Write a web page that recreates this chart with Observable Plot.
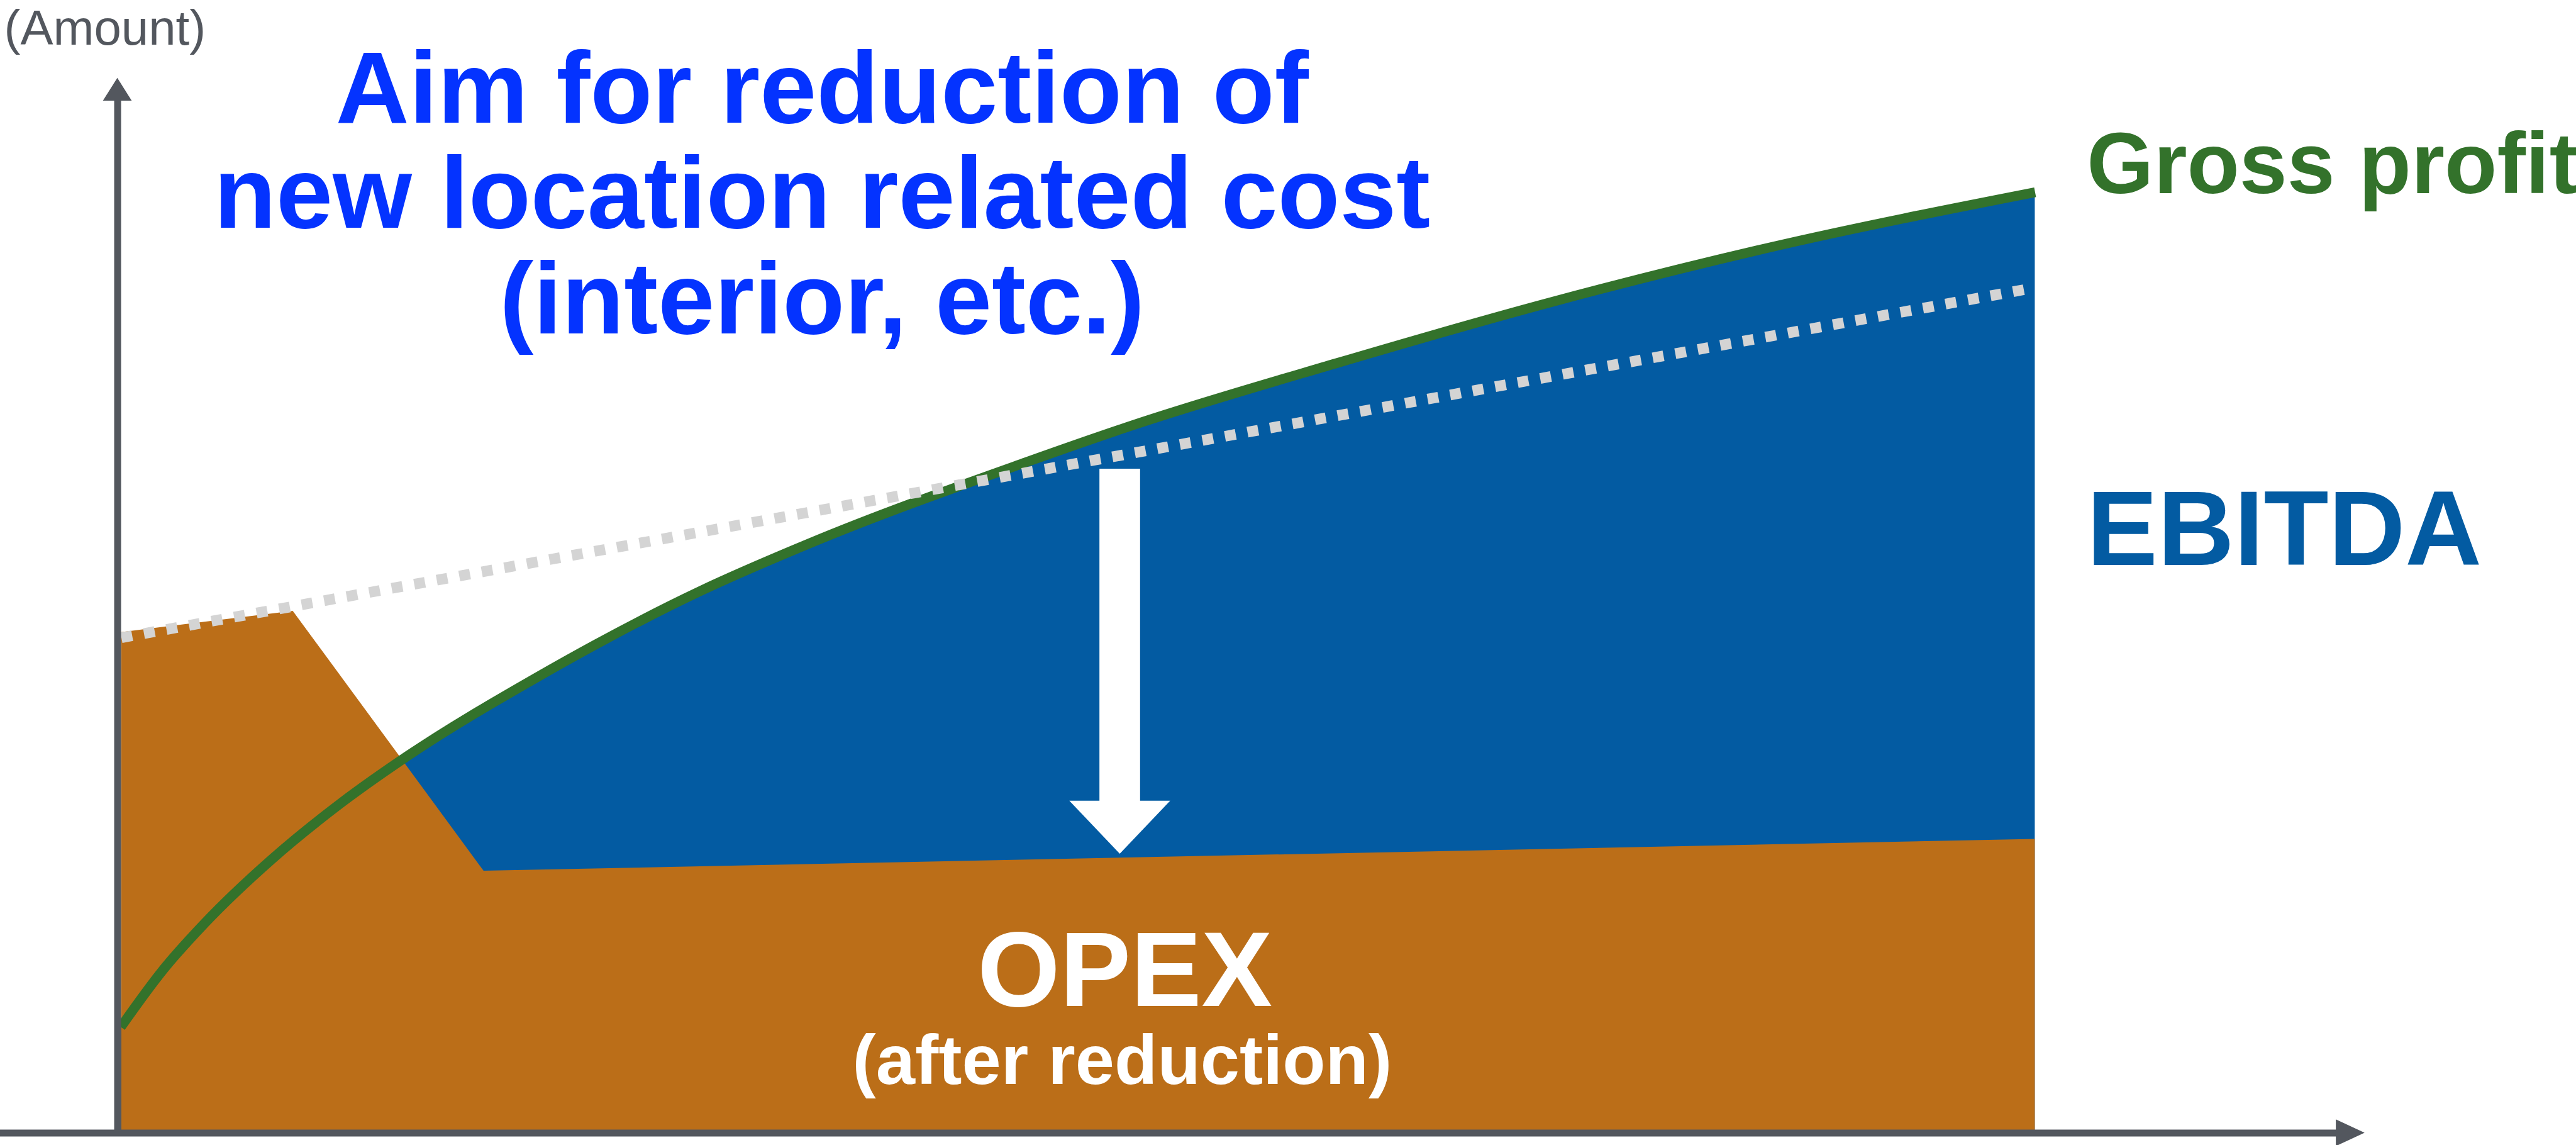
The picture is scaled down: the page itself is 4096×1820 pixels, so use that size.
<!DOCTYPE html>
<html>
<head>
<meta charset="utf-8">
<script src="https://cdn.jsdelivr.net/npm/d3@7"></script>
<script src="https://cdn.jsdelivr.net/npm/@observablehq/plot@0.6"></script>
<style>
  html, body { margin: 0; padding: 0; background: #ffffff; overflow: hidden; }
  #chart svg { display: block; }
</style>
</head>
<body>
<div id="chart"></div>
<script>
// ---- Data (x: time, 0..100 ; y: amount, 0..100) ----
// Gross profit curve
const grossX = [0.17, 2.39, 4.53, 8.06, 11.62, 15.16, 21.69, 30.37, 36.04, 47.39, 53.09, 63.52, 74.86, 86.21, 100];
const grossY = [10.0, 15.43, 19.76, 25.84, 31.07, 35.6, 42.78, 51.08, 55.56, 63.25, 66.82, 72.55, 78.38, 83.51, 88.69];
// OPEX (after reduction), top edge
const opexX = [0.2, 9.15, 19.1, 100];
const opexY = [47.2, 49.2, 24.7, 27.7];
// OPEX before reduction (dotted)
const priorX = [0.2, 57.8, 100];
const priorY = [46.7, 65.7, 79.7];
// Reduction arrow
const arrowX = [52.28];
const arrowFrom = [62.6];
const arrowBase = [31.3];
const arrowTo = [26.3];
const arrowShaftHalf = 1.06;
const arrowHeadHalf = 2.63;
// Axes
const axisYTop = 97.3, axisYTip = 99.45, axisYHeadHalf = 0.75;
const axisXStart = -6.2, axisXEnd = 115.7, axisXTip = 117.2, axisXHeadHalf = 1.26;
// Texts
const titleText = "Aim for reduction of\nnew location related cost\n(interior, etc.)";
const titlePos = {x: 36.74, y: 75.41};
const axisLabel = "(Amount)";
const axisLabelPos = {x: -5.92, y: 102.6};
const seriesLabels = ["Gross profit", "EBITDA", "OPEX", "(after reduction)"];
const labelX = [102.7, 102.7, 52.53, 52.39];
const labelY = [88.59, 53.54, 11.97, 4.63];

// ---- Tables built from the arrays ----
const gross = grossX.map((x, i) => ({x, y: grossY[i]}));
const opex = opexX.map((x, i) => ({x, y: opexY[i]}));
const prior = priorX.map((x, i) => ({x, y: priorY[i]}));
const shaft = arrowX.map((x, i) => ({x1: x - arrowShaftHalf, x2: x + arrowShaftHalf, y1: arrowBase[i] - 0.3, y2: arrowFrom[i]}));
const head = [
  {x: arrowX[0] - arrowHeadHalf, y1: arrowBase[0], y2: arrowBase[0]},
  {x: arrowX[0], y1: arrowBase[0], y2: arrowTo[0]},
  {x: arrowX[0] + arrowHeadHalf, y1: arrowBase[0], y2: arrowBase[0]}
];
const yHead = [
  {x: -axisYHeadHalf, y1: axisYTop, y2: axisYTop},
  {x: 0, y1: axisYTop, y2: axisYTip},
  {x: axisYHeadHalf, y1: axisYTop, y2: axisYTop}
];
const xHead = [
  {y: -axisXHeadHalf, x1: axisXEnd, x2: axisXEnd},
  {y: 0, x1: axisXEnd, x2: axisXTip},
  {y: axisXHeadHalf, x1: axisXEnd, x2: axisXEnd}
];
const labels = seriesLabels.map((t, i) => ({t, x: labelX[i], y: labelY[i]}));

// ---- Layout ----
const W = 4096, H = 1820;
const sx = W / 4831, sy = H / 2147;
const FONT = "'Liberation Sans', Arial, Helvetica, sans-serif";
const C = {
  orange: "#bb6e18", blue: "#035ba2", green: "#33722b",
  dotted: "#d4d4d4", axis: "#53575e", title: "#0433ff"
};

const chart = Plot.plot({
  width: W,
  height: H,
  margin: 0,
  style: {background: "#ffffff", fontFamily: FONT, overflow: "visible"},
  x: {domain: [0, 100], range: [220 * sx, 3816 * sx], axis: null},
  y: {domain: [0, 100], range: [2124 * sy, 135 * sy], axis: null},
  marks: [
    // EBITDA area (under gross profit)
    Plot.areaY(gross, {x: "x", y1: 0, y2: "y", fill: C.blue, curve: "monotone-x"}),
    // OPEX area
    Plot.areaY(opex, {x: "x", y1: 0, y2: "y", fill: C.orange, curve: "linear"}),
    // Gross profit line
    Plot.line(gross, {x: "x", y: "y", stroke: C.green, strokeWidth: 15.5, curve: "monotone-x", strokeLinecap: "butt"}),
    // Prior OPEX (dotted)
    Plot.line(prior, {x: "x", y: "y", stroke: C.dotted, strokeWidth: 17, strokeDasharray: "17.4 19", strokeLinecap: "butt"}),
    // Reduction arrow
    Plot.rect(shaft, {x1: "x1", x2: "x2", y1: "y1", y2: "y2", fill: "#ffffff"}),
    Plot.areaY(head, {x: "x", y1: "y1", y2: "y2", fill: "#ffffff", curve: "linear"}),
    // Axes
    Plot.ruleX([0], {y1: 0, y2: axisYTop + 0.2, stroke: C.axis, strokeWidth: 11}),
    Plot.areaY(yHead, {x: "x", y1: "y1", y2: "y2", fill: C.axis, curve: "linear"}),
    Plot.ruleY([0], {x1: axisXStart, x2: axisXEnd + 0.05, stroke: C.axis, strokeWidth: 11}),
    Plot.areaX(xHead, {y: "y", x1: "x1", x2: "x2", fill: C.axis, curve: "linear"}),
    // Texts
    Plot.text([axisLabel], {x: axisLabelPos.x, y: axisLabelPos.y, text: d => d, textAnchor: "start", lineAnchor: "bottom", fontSize: 92 * sy, fill: C.axis, fontFamily: FONT}),
    Plot.text([titleText], {x: titlePos.x, y: titlePos.y, text: d => d, textAnchor: "middle", lineAnchor: "bottom", lineHeight: 1.034, fontSize: 191 * sy, fontWeight: "bold", fill: C.title, fontFamily: FONT}),
    Plot.text(labels.slice(0, 1), {x: "x", y: "y", text: "t", textAnchor: "start", lineAnchor: "bottom", fontSize: 161 * sy, fontWeight: "bold", fill: C.green, fontFamily: FONT}),
    Plot.text(labels.slice(1, 2), {x: "x", y: "y", text: "t", textAnchor: "start", lineAnchor: "bottom", fontSize: 199 * sy, fontWeight: "bold", fill: C.blue, fontFamily: FONT}),
    Plot.text(labels.slice(2, 3), {x: "x", y: "y", text: "t", textAnchor: "middle", lineAnchor: "bottom", fontSize: 199 * sy, fontWeight: "bold", fill: "#ffffff", fontFamily: FONT}),
    Plot.text(labels.slice(3, 4), {x: "x", y: "y", text: "t", textAnchor: "middle", lineAnchor: "bottom", fontSize: 132 * sy, fontWeight: "bold", fill: "#ffffff", fontFamily: FONT})
  ]
});

document.getElementById("chart").appendChild(chart);
</script>
</body>
</html>
